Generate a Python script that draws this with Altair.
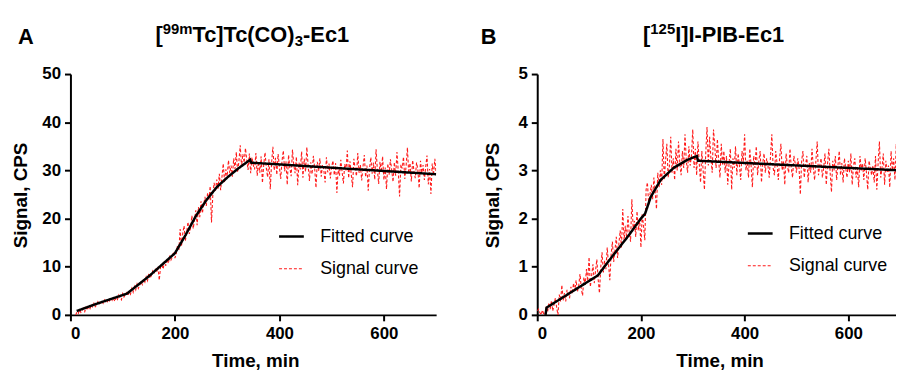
import altair as alt
import pandas as pd

series = ["Fitted curve", "Signal curve"]

# ---- Panel A: [99mTc]Tc(CO)3-Ec1 ----
time_a = [10 + 2.5 * i for i in range(277)]
signal_a = [
    0.0, 0.6, 0.3, 1.1, 0.5, 0.9, 1.4, 0.7, 1.6, 1.0, 1.8, 1.3, 2.1, 1.5, 2.4, 1.7, 2.0, 2.7, 2.2, 2.5,
    2.9, 2.4, 3.1, 2.7, 2.5, 3.3, 2.9, 3.6, 3.0, 3.4, 2.8, 3.7, 3.2, 4.1, 3.5, 3.1, 4.4, 3.7, 4.2, 4.6,
    4.0, 4.8, 4.3, 5.5, 4.7, 5.9, 5.2, 6.4, 5.5, 6.1, 7.0, 6.3, 7.4, 6.8, 7.9, 7.1, 8.6, 7.6, 8.2, 9.1,
    8.5, 9.6, 8.8, 10.0, 7.2, 9.9, 10.4, 9.5, 11.1, 10.2, 11.6, 10.7, 12.3, 11.4, 12.0, 13.1, 11.8, 12.7, 14.5, 13.4,
    17.8, 14.2, 16.9, 18.5, 15.4, 17.2, 19.3, 16.8, 18.1, 20.6, 17.9, 19.8, 21.7, 18.6, 22.4, 20.3, 23.6, 21.1, 22.8, 24.5,
    22.6, 25.3, 23.9, 26.7, 19.2, 24.8, 27.4, 25.6, 28.1, 26.2, 29.3, 25.9, 28.6, 31.4, 27.5, 30.2, 28.8, 32.1, 29.4, 31.0,
    28.7, 32.5, 30.3, 33.8, 29.6, 31.9, 35.2, 30.8, 33.4, 31.6, 34.6, 32.2, 30.1, 33.5, 29.4, 32.7, 31.1, 30.2, 33.6, 28.9,
    31.8, 29.5, 32.9, 27.4, 31.2, 33.7, 30.4, 28.6, 32.3, 26.1, 31.5, 34.9, 30.0, 32.6, 29.1, 33.4, 30.7, 28.2, 32.0, 34.1,
    29.8, 31.9, 27.0, 33.2, 30.5, 28.8, 34.3, 31.1, 29.4, 32.8, 26.9, 31.6, 30.2, 33.9, 28.5, 32.4, 29.7, 34.8, 30.9, 27.8,
    31.7, 29.2, 33.0, 30.4, 26.4, 31.8, 29.9, 32.5, 28.7, 31.2, 30.1, 27.5, 32.7, 29.6, 31.4, 28.3, 30.8, 32.0, 29.0, 31.5,
    25.3, 30.6, 28.9, 32.2, 29.7, 27.3, 31.3, 30.0, 34.1, 28.4, 31.9, 29.2, 26.5, 32.4, 30.3, 28.8, 33.6, 29.5, 31.1, 27.9,
    30.8, 33.2, 28.6, 31.0, 25.8, 30.4, 32.7, 29.3, 31.6, 28.1, 34.4, 30.1, 27.2, 31.8, 29.6, 32.9, 28.0, 30.6, 26.1, 31.4,
    29.1, 32.3, 30.0, 27.6, 31.7, 28.9, 33.8, 29.8, 24.6, 31.2, 30.4, 32.8, 28.2, 30.9, 34.7, 29.4, 31.5, 27.7, 32.1, 29.9,
    28.4, 31.6, 30.2, 26.3, 32.0, 29.5, 31.1, 28.0, 30.7, 33.1, 27.1, 30.3, 25.1, 31.4, 29.0, 32.4, 29.3,
]
fit_time_a = [12, 50, 108, 150, 200, 220, 240, 260, 280, 300, 320, 344, 346, 700]
fit_a = [0.8, 2.3, 4.4, 8.0, 12.8, 16.5, 20.5, 23.8, 26.5, 28.5, 30.3, 32.2, 31.6, 29.2]
y_ticks_a = [0, 10, 20, 30, 40, 50]

# ---- Panel B: [125I]I-PIB-Ec1 ----
time_b = [2.5 * i for i in range(281)]
signal_b = [
    0.08, 0.12, 0.05, 0.00, 0.10, 0.02, 0.00, 0.18, 0.06, 0.25, 0.12, 0.30, 0.08, 0.22, 0.35, 0.15, 0.00, 0.42, 0.28, 0.62,
    0.30, 0.45, 0.28, 0.52, 0.40, 0.36, 0.58, 0.44, 0.66, 0.50, 0.72, 0.48, 0.60, 0.85, 0.55, 0.40, 0.78, 0.62, 0.95, 0.70,
    1.20, 0.58, 0.82, 1.05, 0.66, 0.92, 1.15, 0.74, 0.45, 0.98, 1.30, 0.88, 1.12, 0.95, 1.40, 1.05, 0.72, 1.25, 1.52, 1.10,
    1.35, 1.62, 1.18, 1.48, 1.75, 1.40, 2.20, 1.55, 1.85, 1.60, 2.05, 1.70, 1.52, 2.40, 1.80, 1.95, 1.62, 2.15, 1.75, 2.00,
    1.40, 2.10, 1.85, 1.55, 2.60, 2.75, 2.30, 2.50, 2.70, 2.40, 2.85, 2.55, 2.20, 2.95, 2.65, 3.00, 2.70, 3.65, 2.80, 3.20,
    3.55, 2.85, 3.10, 3.70, 2.95, 3.25, 2.80, 3.45, 3.00, 3.60, 3.15, 2.90, 3.40, 3.05, 3.75, 3.20, 2.95, 3.50, 3.10, 3.30,
    3.85, 3.05, 3.45, 2.90, 3.60, 3.15, 2.75, 3.40, 3.00, 2.60, 3.35, 3.90, 3.10, 3.70, 3.25, 2.95, 3.85, 3.50, 3.05, 3.65,
    3.20, 2.85, 3.55, 3.10, 3.40, 2.95, 3.30, 2.70, 3.15, 3.45, 2.60, 3.25, 3.05, 3.50, 2.90, 3.35, 3.10, 2.80, 3.40, 3.15,
    3.75, 3.00, 3.20, 2.85, 3.45, 3.10, 2.65, 3.30, 3.05, 3.50, 2.90, 3.20, 3.40, 2.75, 3.15, 3.35, 2.95, 3.25, 3.10, 2.85,
    3.30, 3.75, 3.05, 2.90, 3.40, 3.15, 2.80, 3.25, 3.55, 3.00, 3.20, 2.70, 3.35, 3.10, 2.95, 3.45, 3.05, 2.85, 3.30, 3.15,
    2.95, 3.25, 3.05, 2.50, 3.20, 3.40, 2.85, 3.10, 3.30, 2.75, 3.15, 2.95, 3.45, 3.05, 2.80, 3.20, 3.60, 2.90, 3.10, 3.25,
    2.85, 3.05, 3.35, 2.70, 3.15, 3.45, 2.95, 2.55, 3.20, 3.00, 3.30, 2.80, 3.10, 3.40, 2.90, 3.15, 2.75, 3.25, 3.05, 2.85,
    3.20, 2.95, 3.35, 2.70, 3.10, 3.25, 2.85, 3.05, 2.65, 3.30, 3.00, 3.15, 2.80, 3.25, 2.95, 2.60, 3.20, 3.05, 2.90, 3.10,
    2.75, 3.30, 2.60, 3.15, 3.60, 2.85, 3.05, 3.35, 2.70, 3.20, 2.95, 3.10, 2.65, 3.40, 3.00, 3.25, 2.80, 3.55, 2.90, 3.15,
    3.05,
]
fit_time_b = [16, 18, 117, 143, 175, 200, 208, 219, 238, 264, 290, 308, 310, 700]
fit_b = [0.0, 0.15, 0.82, 1.19, 1.63, 2.0, 2.1, 2.45, 2.8, 3.06, 3.22, 3.3, 3.2, 3.0]
y_ticks_b = [0, 1, 2, 3, 4, 5]

x_ticks = [0, 200, 400, 600]

# Title pieces: (text, role) where role is main / sup / sub
title_a = [("[", "main"), ("99m", "sup"), ("Tc]Tc(CO)", "main"), ("3", "sub"), ("-Ec1", "main")]
title_b = [("[", "main"), ("125", "sup"), ("I]I-PIB-Ec1", "main")]

FONT = "Liberation Sans"
MAIN_SIZE = 22
SMALL_SIZE = 15

# Arial/Liberation Sans Bold advance widths (per 1000 em)
ADV = {"[": 333, "]": 333, "(": 333, ")": 333, "-": 333, "T": 611, "c": 556,
       "C": 722, "O": 778, "E": 667, "m": 889, "I": 278, "P": 667, "B": 722}


def text_width(s, size):
    return sum(ADV.get(ch, 556) for ch in s) * size / 1000.0


def title_layers(pieces, center_x, baseline_y):
    sizes = [MAIN_SIZE if r == "main" else SMALL_SIZE for _, r in pieces]
    total = sum(text_width(t, s) for (t, _), s in zip(pieces, sizes))
    x0 = center_x - total / 2.0
    layers = []
    for (txt, role), size in zip(pieces, sizes):
        dy = {"main": 0, "sup": -8, "sub": 4}[role]
        shift = -3 if role == "sub" else 0
        layers.append(
            alt.Chart(pd.DataFrame({"label": [txt]})).mark_text(
                font=FONT, fontSize=size, fontWeight="bold", align="left",
                baseline="alphabetic", color="black").encode(
                text="label:N", x=alt.value(x0 + shift), y=alt.value(baseline_y + dy))
        )
        x0 += text_width(txt, size) + shift
    return layers


def panel(letter, pieces, t_sig, v_sig, t_fit, v_fit, ymax, yticks, xmax, width,
          ytitle_x, xtitle_x, leg_x, leg_y, title_x, letter_x):
    height = 243
    sig = pd.DataFrame({"t": t_sig, "v": v_sig, "s": series[1]})
    fit = pd.DataFrame({"t": t_fit, "v": v_fit, "s": series[0]})
    legend = alt.Legend(
        title=None, orient="none", legendX=leg_x, legendY=leg_y,
        symbolType="stroke", symbolSize=625, labelFont=FONT, labelFontSize=18,
        labelColor="black", labelOffset=15, rowPadding=10, padding=0,
        symbolStrokeWidth=2.5,
    )
    x = alt.X("t:Q", scale=alt.Scale(domain=[0, xmax], nice=False, zero=False),
              axis=alt.Axis(values=x_ticks, title="Time, min", titleX=xtitle_x,
                            titleY=52, titleBaseline="alphabetic", titleAlign="center",
                            labelPadding=5))
    y = alt.Y("v:Q", scale=alt.Scale(domain=[0, ymax], nice=False),
              axis=alt.Axis(values=yticks, title="Signal, CPS", titleX=ytitle_x,
                            titleY=122, titleAngle=-90, titleAlign="center",
                            titleBaseline="middle", labelPadding=4))
    color = alt.Color("s:N", scale=alt.Scale(domain=series, range=["black", "#ff1a1a"]),
                      legend=legend)
    dash = alt.StrokeDash("s:N", scale=alt.Scale(domain=series, range=[[1, 0], [3, 2]]),
                          legend=legend)
    sw = alt.StrokeWidth("s:N", scale=alt.Scale(domain=series, range=[2.5, 1.1]),
                         legend=legend)
    sig_line = alt.Chart(sig).mark_line(clip=True).encode(
        x=x, y=y, color=color, strokeDash=dash, strokeWidth=sw)
    fit_line = alt.Chart(fit).mark_line(clip=True).encode(
        x=x, y=y, color=color, strokeDash=dash, strokeWidth=sw)
    let = alt.Chart(pd.DataFrame({"label": [letter]})).mark_text(
        font=FONT, fontSize=22, fontWeight="bold", align="left",
        baseline="alphabetic", color="black").encode(
        text="label:N", x=alt.value(letter_x), y=alt.value(-30))
    layers = [sig_line, fit_line, let] + title_layers(pieces, title_x, -32)
    return alt.layer(*layers).properties(width=width, height=height)


chart_a = panel("A", title_a, time_a, signal_a, fit_time_a, fit_a, 50, y_ticks_a,
                700, 369, -50.5, 186.5, 209, 150, 185, -53)
chart_b = panel("B", title_b, time_b, signal_b, fit_time_b, fit_b, 5, y_ticks_b,
                692, 362, -45, 184, 211, 147, 178, -57)

chart = alt.hconcat(chart_a, chart_b, spacing=102, bounds="flush").resolve_scale(
    x="independent", y="independent", color="independent",
    strokeDash="independent", strokeWidth="independent"
).properties(
    padding={"left": 3, "top": 13, "right": 0, "bottom": 0}
).configure_view(stroke=None).configure_axis(
    grid=False, domainColor="black", domainWidth=2, tickColor="black", tickWidth=2,
    tickSize=6, labelFont=FONT, labelFontSize=17, labelFontWeight="bold",
    labelColor="black", titleFont=FONT, titleFontSize=19, titleFontWeight="bold",
    titleColor="black"
)

chart.save("out.html", embed_options={"renderer": "svg", "actions": False})
